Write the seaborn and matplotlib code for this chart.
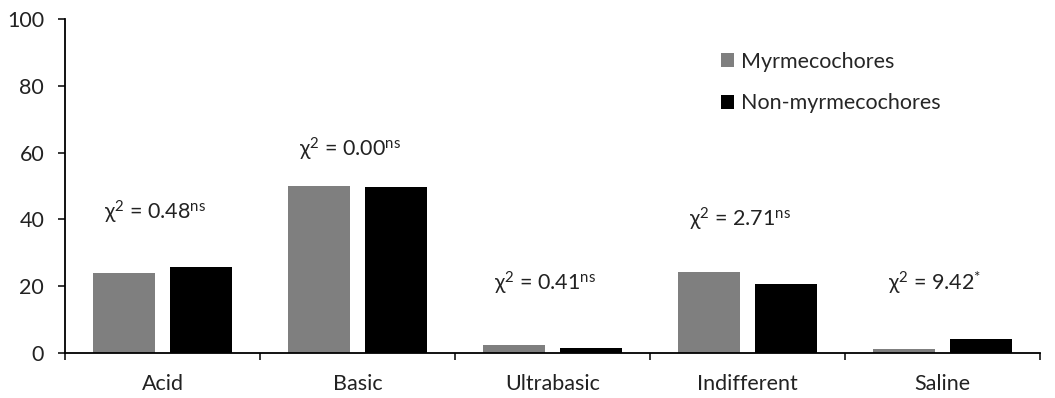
import seaborn as sns
import matplotlib.pyplot as plt
import pandas as pd

categories = ["Acid", "Basic", "Ultrabasic", "Indifferent", "Saline"]
myrmecochores = [24.0, 50.0, 2.3, 24.2, 1.1]
non_myrmecochores = [25.8, 49.7, 1.6, 20.6, 4.3]
chi_values = ["0.48", "0.00", "0.41", "2.71", "9.42"]
chi_marks = ["ns", "ns", "ns", "ns", "*"]
label_y = [42, 61, 21, 40, 21]

sns.set_style("ticks")
plt.rcParams['font.family'] = ['Lato', 'DejaVu Sans']
plt.rcParams['mathtext.fontset'] = 'custom'
plt.rcParams['mathtext.rm'] = 'Lato'
plt.rcParams['mathtext.it'] = 'Lato:italic'

df = pd.DataFrame({
    "category": categories * 2,
    "value": myrmecochores + non_myrmecochores,
    "group": ["Myrmecochores"] * 5 + ["Non-myrmecochores"] * 5,
})

fig, ax = plt.subplots(figsize=(10.55, 3.98), dpi=100)
fig.subplots_adjust(left=0.0616, right=0.986, bottom=0.113, top=0.952)

sns.barplot(data=df, x="category", y="value", hue="group", order=categories,
            palette=["#7f7f7f", "#000000"], width=0.79, gap=0.2,
            saturation=1, edgecolor="none", ax=ax)

for i, (val, mark, y) in enumerate(zip(chi_values, chi_marks, label_y)):
    ax.text(i - 0.04, y, r"$\mathrm{\chi}^{2}$ = " + val + r"$^{\mathrm{" + mark + "}}$",
            ha="center", va="center", fontsize=15.5, color="#222222")

ax.set_ylim(0, 100)
ax.set_xlim(-0.5, 4.5)
ax.set_yticks([0, 20, 40, 60, 80, 100])
ax.set_xlabel("")
ax.set_ylabel("")
ax.tick_params(axis="x", which="major", length=0, labelsize=15.5, pad=15, labelcolor="#222222")
ax.set_xticks([-0.5, 0.5, 1.5, 2.5, 3.5, 4.5], minor=True)
ax.tick_params(axis="x", which="minor", length=5, width=1.3, direction="out")
ax.tick_params(axis="y", length=5, width=1.3, labelsize=15.5, pad=10, labelcolor="#222222")
for side in ["left", "bottom"]:
    ax.spines[side].set_linewidth(1.3)
    ax.spines[side].set_color("black")
sns.despine(ax=ax)

leg = ax.legend(loc="upper left", bbox_to_anchor=(0.653, 0.96), frameon=False,
                fontsize=15.5, handlelength=0.6, handleheight=0.6, handletextpad=0.3,
                labelspacing=1.0, title=None)

plt.savefig("out.png", dpi=100)
